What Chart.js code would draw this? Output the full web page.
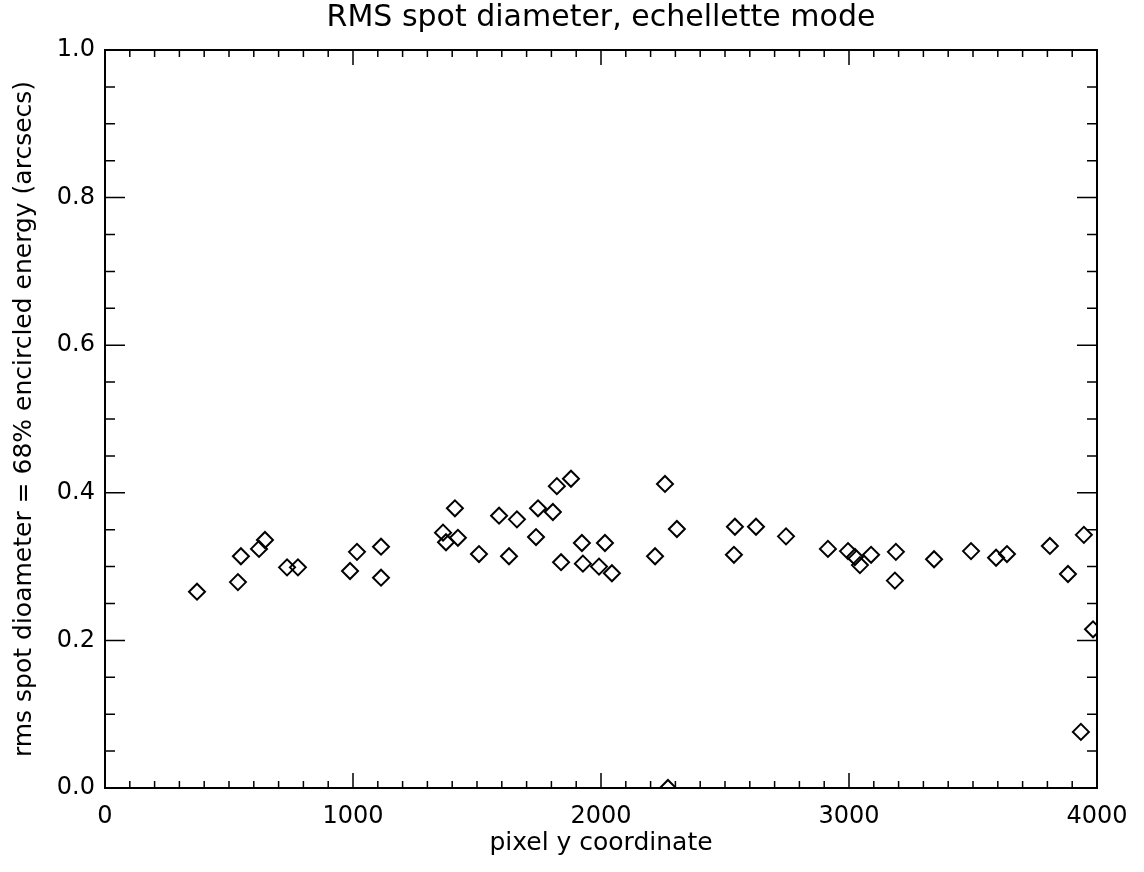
<!DOCTYPE html>
<html>
<head>
<meta charset="utf-8">
<title>RMS spot diameter</title>
<script src="https://cdn.jsdelivr.net/npm/chart.js@4.4.1/dist/chart.umd.min.js"></script>
<style>
    html, body { margin: 0; padding: 0; background: #fff; }
</style>
</head>
<body>
<canvas id="chart" width="1144" height="872"></canvas>
<script>
// ── DATA ──
const pixelY = [
    371, 536, 548, 621, 645, 734, 778, 988, 1016, 1113, 1113,
    1363, 1375, 1411, 1423, 1508, 1589, 1629, 1661, 1738, 1746,
    1806, 1822, 1839, 1879, 1923, 1927, 1992, 2016, 2044,
    2218, 2258, 2270, 2306, 2536, 2540, 2625, 2746,
    2915, 2996, 3024, 3044, 3089, 3185, 3189, 3343, 3492,
    3593, 3637, 3810, 3883, 3935, 3947, 3984
];
const rmsDiam = [
    0.266, 0.279, 0.314, 0.324, 0.336, 0.299, 0.299, 0.294, 0.320, 0.327, 0.285,
    0.346, 0.333, 0.379, 0.339, 0.317, 0.369, 0.314, 0.364, 0.340, 0.379,
    0.374, 0.409, 0.306, 0.419, 0.332, 0.304, 0.300, 0.332, 0.291,
    0.314, 0.412, 0.000, 0.351, 0.316, 0.354, 0.354, 0.341,
    0.324, 0.321, 0.313, 0.302, 0.316, 0.281, 0.320, 0.310, 0.321,
    0.312, 0.317, 0.328, 0.290, 0.076, 0.343, 0.215
];
const xRange = [0, 4000];
const yRange = [0, 1];
const xMajorStep = 1000, xMinorStep = 100;
const yMajorStep = 0.2, yMinorStep = 0.05;
const chartTitle = 'RMS spot diameter, echellette mode';

const FONT = "'DejaVu Sans', sans-serif";

// inward ticks on all four sides + frame + title centred over the plot box
const frameTicks = {
    id: 'frameTicks',
    afterDatasetsDraw(chart) {
        const { ctx, chartArea: a, scales: { x, y } } = chart;
        ctx.save();
        ctx.strokeStyle = '#000';
        ctx.lineWidth = 1.5;
        ctx.beginPath();
        const nx = Math.round((xRange[1] - xRange[0]) / xMinorStep);
        const xPer = Math.round(xMajorStep / xMinorStep);
        for (let i = 0; i <= nx; i++) {
            const px = x.getPixelForValue(xRange[0] + i * xMinorStep);
            const len = i % xPer === 0 ? 15 : 7;
            ctx.moveTo(px, a.bottom); ctx.lineTo(px, a.bottom - len);
            ctx.moveTo(px, a.top); ctx.lineTo(px, a.top + len);
        }
        const ny = Math.round((yRange[1] - yRange[0]) / yMinorStep);
        const yPer = Math.round(yMajorStep / yMinorStep);
        for (let i = 0; i <= ny; i++) {
            const py = y.getPixelForValue(yRange[0] + i * yMinorStep);
            const len = i % yPer === 0 ? 20 : 10;
            ctx.moveTo(a.left, py); ctx.lineTo(a.left + len, py);
            ctx.moveTo(a.right, py); ctx.lineTo(a.right - len, py);
        }
        ctx.stroke();
        ctx.lineWidth = 2;
        ctx.strokeRect(a.left, a.top, a.right - a.left, a.bottom - a.top);

        ctx.fillStyle = '#000';
        ctx.font = '30px ' + FONT;
        ctx.textAlign = 'center';
        ctx.textBaseline = 'middle';
        ctx.fillText(chartTitle, (a.left + a.right) / 2, 18);
        ctx.restore();
    }
};

new Chart(document.getElementById('chart'), {
    type: 'scatter',
    data: {
        datasets: [{
            data: pixelY.map((v, i) => ({ x: v, y: rmsDiam[i] })),
            pointStyle: 'rectRot',
            pointRadius: 8,
            pointBorderWidth: 2,
            pointBorderColor: '#000',
            pointBackgroundColor: 'rgba(0,0,0,0)',
            clip: 0
        }]
    },
    options: {
        responsive: false,
        animation: false,
        devicePixelRatio: 1,
        layout: { padding: { left: 0, right: 47, top: 50, bottom: 0 } },
        plugins: {
            legend: { display: false },
            tooltip: { enabled: false }
        },
        scales: {
            x: {
                type: 'linear',
                min: xRange[0], max: xRange[1],
                grid: { display: false, drawTicks: false },
                border: { display: false },
                ticks: {
                    stepSize: xMajorStep, color: '#000', padding: 14,
                    maxRotation: 0, autoSkip: false,
                    font: { family: FONT, size: 24 },
                    callback: v => String(v)
                },
                title: {
                    display: true, text: 'pixel y coordinate', color: '#000',
                    font: { family: FONT, size: 25 },
                    padding: { top: 0, bottom: 14 }
                },
                afterFit(s) { s.height = 84; }
            },
            y: {
                min: yRange[0], max: yRange[1],
                grid: { display: false, drawTicks: false },
                border: { display: false },
                ticks: {
                    stepSize: yMajorStep, color: '#000', padding: 10,
                    font: { family: FONT, size: 24 },
                    callback: v => v.toFixed(1)
                },
                title: {
                    display: true, text: 'rms spot dioameter = 68% encircled energy (arcsecs)',
                    color: '#000',
                    font: { family: FONT, size: 25 },
                    padding: { top: 9, bottom: 0 }
                },
                afterFit(s) { s.width = 105; }
            }
        }
    },
    plugins: [frameTicks]
});
</script>
</body>
</html>
